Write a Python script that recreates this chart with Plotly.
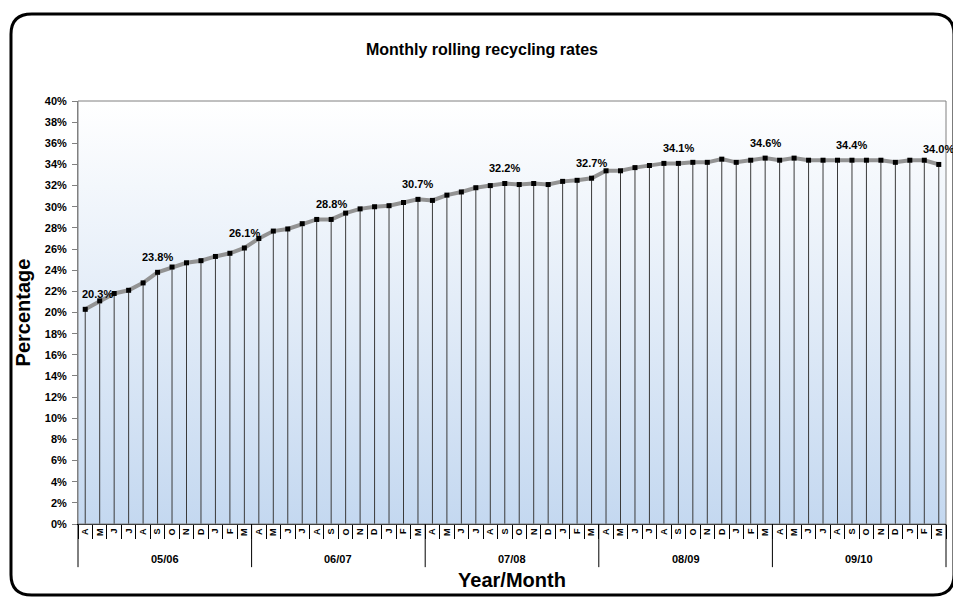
import plotly.graph_objects as go

years = ['05/06', '06/07', '07/08', '08/09', '09/10']
months = ['A', 'M', 'J', 'J', 'A', 'S', 'O', 'N', 'D', 'J', 'F', 'M']
rates = [20.3, 21.1, 21.8, 22.1, 22.8, 23.8, 24.3, 24.7, 24.9, 25.3, 25.6, 26.1,
         27.0, 27.7, 27.9, 28.4, 28.8, 28.8, 29.4, 29.8, 30.0, 30.1, 30.4, 30.7,
         30.6, 31.1, 31.4, 31.8, 32.0, 32.2, 32.1, 32.2, 32.1, 32.4, 32.5, 32.7,
         33.4, 33.4, 33.7, 33.9, 34.1, 34.1, 34.2, 34.2, 34.5, 34.2, 34.4, 34.6,
         34.4, 34.6, 34.4, 34.4, 34.4, 34.4, 34.4, 34.4, 34.2, 34.4, 34.4, 34.0]
labelled = [0, 5, 11, 17, 23, 29, 35, 41, 47, 53, 59]
y_ticks = list(range(0, 41, 2))

n = len(rates)
x = list(range(n))
month_text = months * len(years)
FONT = "Arial, 'Liberation Sans', sans-serif"

fig = go.Figure()

# gradient plot background
fig.add_trace(go.Scatter(
    x=[-0.5, n - 0.5, n - 0.5, -0.5, -0.5], y=[0, 0, 40, 40, 0],
    mode='lines', fill='toself', line=dict(width=0),
    fillgradient=dict(type='vertical', colorscale=[[0, '#c4d8f0'], [1, '#ffffff']]),
    hoverinfo='skip', showlegend=False))

fig.add_trace(go.Scatter(
    x=x, y=rates, mode='lines+markers',
    line=dict(color='#939393', width=4),
    marker=dict(symbol='square', size=5, color='#000000'),
    error_y=dict(type='data', symmetric=False, array=[0] * n, arrayminus=rates,
                 width=0, thickness=1, color='#3a3a3a'),
    cliponaxis=False, showlegend=False))

shapes = []
# plot area border
shapes.append(dict(type='rect', xref='x domain', yref='y domain', x0=0, x1=1, y0=0, y1=1,
                   line=dict(color='#808080', width=1), layer='above'))
# year dividers
for g in range(len(years) + 1):
    xp = g * 12 / n
    shapes.append(dict(type='line', xref='paper', yref='paper', x0=xp, x1=xp, y0=0, y1=-0.102,
                       line=dict(color='#000000', width=1)))
# outer rounded frame
L, R, T, B = -0.0772, 1.0092, 1.2057, -0.168
rx, ry = 0.024, 0.048
path = (f"M {L+rx},{T} L {R-rx},{T} Q {R},{T} {R},{T-ry} L {R},{B+ry} Q {R},{B} {R-rx},{B} "
        f"L {L+rx},{B} Q {L},{B} {L},{B+ry} L {L},{T-ry} Q {L},{T} {L+rx},{T} Z")
shapes.append(dict(type='path', xref='paper', yref='paper', path=path,
                   line=dict(color='#000000', width=3)))

annotations = []
for g, yr in enumerate(years):
    annotations.append(dict(x=g * 12 + 5.5, xref='x', y=-0.083, yref='paper', text=yr,
                            showarrow=False, xanchor='center', yanchor='middle',
                            font=dict(family=FONT, size=11, color='#000000', weight='bold')))
for i in labelled:
    annotations.append(dict(x=i, xref='x', y=rates[i], yref='y', text=f"{rates[i]:.1f}%",
                            showarrow=False, xanchor='center', yanchor='middle',
                            yshift=15, xshift=(12 if i == 0 else 0),
                            font=dict(family=FONT, size=11, color='#000000', weight='bold')))

fig.update_layout(
    width=953, height=591,
    margin=dict(l=70, r=15, t=93, b=75),
    paper_bgcolor='#ffffff', plot_bgcolor='rgba(0,0,0,0)',
    font=dict(family=FONT, color='#000000'),
    title=dict(text='Monthly rolling recycling rates', x=(482 - 78) / 868, xref='paper',
               xanchor='center', y=1 - 41 / 591, yref='container', yanchor='middle',
               font=dict(family=FONT, size=16, color='#000000', weight='bold')),
    xaxis=dict(range=[-0.5, n - 0.5], tickmode='array', tickvals=x, ticktext=month_text,
               tickangle=-90, ticks='', showgrid=False, zeroline=False,
               showline=True, linecolor='#000000', linewidth=1,
               tickfont=dict(family=FONT, size=9, color='#000000', weight='bold'),
               minor=dict(tickmode='array', tickvals=[i - 0.5 for i in range(n + 1)],
                          ticks='outside', ticklen=14, tickcolor='#000000', tickwidth=1,
                          showgrid=False),
               title=dict(text='Year/Month', standoff=37,
                          font=dict(family=FONT, size=20, color='#000000', weight='bold'))),
    yaxis=dict(range=[0, 40], tickmode='array', tickvals=y_ticks,
               ticktext=[f"{v}%" for v in y_ticks],
               ticks='outside', ticklen=5, tickcolor='#808080', ticklabelstandoff=3,
               showgrid=False, zeroline=False, showline=True, linecolor='#808080', linewidth=1,
               tickfont=dict(family=FONT, size=11, color='#000000', weight='bold'),
               title=dict(text='Percentage', standoff=8,
                          font=dict(family=FONT, size=20, color='#000000', weight='bold'))),
    shapes=shapes, annotations=annotations,
)

fig.write_html("out.html")
